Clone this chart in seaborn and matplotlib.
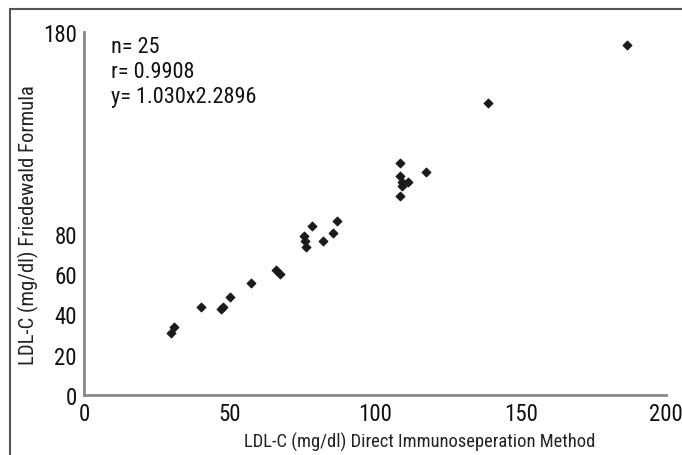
import numpy as np
import pandas as pd
import matplotlib
matplotlib.use("Agg")
import matplotlib.pyplot as plt
import seaborn as sns
from matplotlib.patches import Rectangle
from matplotlib import font_manager

# valeurs
direct = [186.6, 138.8, 108.6, 117.5, 108.6, 109.3, 111.3, 109.3, 108.6,
          86.9, 85.6, 78.4, 82.1, 75.6, 75.9, 76.3, 66.0, 67.4, 57.4,
          50.2, 47.0, 47.8, 40.2, 30.9, 29.9]
friedewald = [173.5, 144.8, 115.0, 110.6, 108.6, 105.6, 105.6, 103.6, 98.7,
              86.3, 80.3, 83.8, 76.4, 78.8, 76.4, 73.4, 62.0, 60.0, 55.5,
              48.6, 42.6, 43.4, 43.6, 33.7, 30.7]
xticks = [0, 50, 100, 150, 200]
yticks = [0, 20, 40, 60, 80, 100, 120, 140, 160, 180]
ylabels = ["0", "20", "40", "60", "80", "", "", "", "", "180"]
stats = ["n= 25", "r= 0.9908", "y= 1.030x2.2896"]

df = pd.DataFrame({"direct": direct, "friedewald": friedewald})

# police étroite si dispo
dispo = set(f.name for f in font_manager.fontManager.ttflist)
police = "Liberation Sans"
for nom in ["Liberation Sans Narrow", "Roboto Condensed", "Open Sans Condensed"]:
    if nom in dispo:
        police = nom
        break

sns.set_style("white")
plt.rcParams['font.family'] = [police, 'DejaVu Sans']
narrow = police != "Liberation Sans"

fig = plt.figure(figsize=(6.82, 4.56), dpi=100)
ax = fig.add_axes([0.123, 0.1316, 0.854, 0.796])

sns.scatterplot(data=df, x="direct", y="friedewald", marker="D", s=20,
                color="#1a1a1a", edgecolor="#1a1a1a", linewidth=0.8, ax=ax)

ax.set_xlim(0, 200)
ax.set_ylim(0, 180)
ax.set_xticks(xticks)
ax.set_xticklabels([str(t) for t in xticks])
ax.set_yticks(yticks)
ax.set_yticklabels(ylabels)
ax.tick_params(axis="both", labelsize=16.5 if narrow else 15, colors="#888888",
               labelcolor="#111111", direction="inout", length=6, width=1.2, pad=2)
ax.set_xlabel("")
ax.set_ylabel("")
sns.despine(ax=ax)
for s in ["left", "bottom"]:
    ax.spines[s].set_color("#888888")
    ax.spines[s].set_linewidth(2)

# texte stats
for i, t in enumerate(stats):
    ax.text(0.046, 0.99 - i * 0.069, t, transform=ax.transAxes,
            fontsize=16 if narrow else 14.5, va="top", ha="left", color="#111111")

lab = 13.3 if narrow else 12
fig.text(0.616, 0.008, "LDL-C (mg/dl) Direct Immunoseperation Method",
         fontsize=lab, ha="center", va="bottom", color="#222222")
fig.text(0.041, 0.507, "LDL-C (mg/dl) Friedewald Formula", fontsize=lab * 1.12,
         rotation=90, ha="center", va="center", color="#222222")

# cadre autour de la figure
fig.patches.append(Rectangle((0.015, -0.1), 1.2, 1.078, transform=fig.transFigure,
                             fill=False, edgecolor="#555555", linewidth=1.5))

fig.savefig("out.png", dpi=100)
